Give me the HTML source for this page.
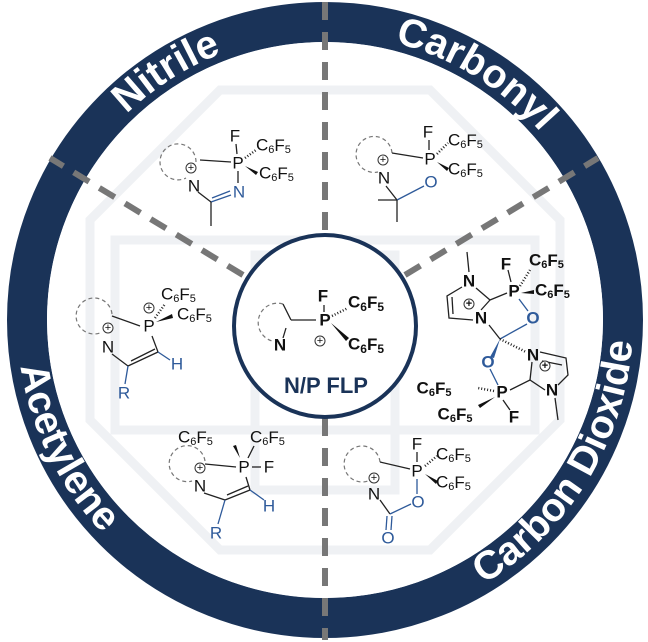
<!DOCTYPE html>
<html><head><meta charset="utf-8"><style>
html,body{margin:0;padding:0;background:#fff;}
svg{display:block;}
text{font-family:"Liberation Sans",sans-serif;}
.a{font-size:17px;fill:#111;text-anchor:middle;dominant-baseline:central;}
.b{fill:#2e5a9a;}
.c{font-size:17px;fill:#111;dominant-baseline:central;}
.k{font-weight:bold;font-size:17px;}
.l{stroke:#222;stroke-width:1.3;fill:none;}
.lb{stroke:#2e5a9a;stroke-width:1.3;fill:none;}
.d{stroke:#777;stroke-width:1.2;stroke-dasharray:4 3;fill:none;}
.p{font-size:11px;}
.pc{stroke:#333;stroke-width:1;fill:#fff;}
.h{stroke:#222;stroke-width:2.5;stroke-dasharray:1 2;}
</style></head><body>
<svg width="648" height="642" viewBox="0 0 648 642" xmlns="http://www.w3.org/2000/svg">
<defs>
<path id="top" d="M 39 320 A 286 286 0 0 1 611 320"/>
<path id="bot" d="M 17 320 A 308 308 0 0 0 633 320"/>
</defs>
<circle cx="325" cy="320" r="298" fill="none" stroke="#1a3358" stroke-width="40"/>
<circle cx="325" cy="320" r="278" fill="#fff"/>
<g fill="none" stroke="#eff1f4" stroke-width="9">
<polygon points="220,90 430,90 560,220 560,420 430,550 220,550 90,420 90,220"/>
<rect x="115" y="240" width="420" height="190"/>
<rect x="255" y="255" width="140" height="235"/>
</g>
<g stroke="#777" stroke-width="6" stroke-dasharray="18 12" fill="none">
<line x1="325" y1="2" x2="325" y2="232"/>
<line x1="325" y1="418" x2="325" y2="640"/>
<line x1="243" y1="275" x2="50" y2="158"/>
<line x1="405" y1="275" x2="598" y2="158"/>
</g>
<circle cx="325" cy="326" r="91" fill="#fff" stroke="#1a3358" stroke-width="4"/>
<g font-family="Liberation Sans" font-weight="bold" font-size="40" fill="#fff">
<text><textPath href="#top" startOffset="31.9%" text-anchor="middle">Nitrile</textPath></text>
<text><textPath href="#top" startOffset="67.5%" text-anchor="middle">Carbonyl</textPath></text>
<text><textPath href="#bot" startOffset="14.6%" text-anchor="middle">Acetylene</textPath></text>
<text><textPath href="#bot" startOffset="82.5%" text-anchor="middle">Carbon Dioxide</textPath></text>
</g>

<!-- central -->
<path class="d" d="M 283 304 A 17 17 0 1 0 272 341"/>
<line class="l" x1="283" y1="304" x2="291" y2="320"/>
<line class="l" x1="291" y1="320" x2="316" y2="320"/>
<line class="l" x1="286" y1="328" x2="283" y2="338"/>
<line class="l" x1="324" y1="305" x2="324" y2="312"/>
<line class="h" x1="332" y1="316" x2="348" y2="308"/>
<polygon points="331,323 349,338 346,341" fill="#111"/>
<text class="a k" x="323" y="296">F</text>
<text class="a k" x="325" y="320">P</text>
<text class="a k" x="280" y="345">N</text>
<circle class="pc" cx="320" cy="341" r="5"/><text class="a p" x="320" y="341">+</text>
<text class="c k" x="348" y="302">C<tspan font-size="12" dy="5">6</tspan><tspan dy="-5">F</tspan><tspan font-size="12" dy="5">5</tspan></text>
<text class="c k" x="348" y="344">C<tspan font-size="12" dy="5">6</tspan><tspan dy="-5">F</tspan><tspan font-size="12" dy="5">5</tspan></text>
<text x="326" y="393" font-size="22" font-weight="bold" fill="#1a3358" text-anchor="middle">N/P FLP</text>

<!-- Nitrile -->
<path class="d" d="M 196 162 A 18 18 0 1 0 186 178"/>
<line class="l" x1="200" y1="160" x2="231" y2="162"/>
<line class="l" x1="198" y1="192" x2="211" y2="202"/>
<line class="lb" x1="211" y1="202" x2="231" y2="195"/>
<line class="lb" x1="212" y1="198" x2="230" y2="191"/>
<line class="l" x1="211" y1="202" x2="211" y2="226"/>
<line class="l" x1="238" y1="171" x2="238" y2="183"/>
<line class="l" x1="236" y1="144" x2="237" y2="154"/>
<line class="h" x1="245" y1="158" x2="256" y2="150"/>
<polygon points="245,166 258,172 256,175" fill="#111"/>
<text class="a" x="235" y="136">F</text>
<text class="a" x="238" y="163">P</text>
<text class="a" x="194" y="186">N</text>
<text class="a b" x="239" y="192">N</text>
<circle class="pc" cx="191" cy="168" r="5"/><text class="a p" x="191" y="168">+</text>
<text class="c" x="256" y="145">C<tspan font-size="11" dy="5">6</tspan><tspan dy="-5">F</tspan><tspan font-size="11" dy="5">5</tspan></text>
<text class="c" x="259" y="173">C<tspan font-size="11" dy="5">6</tspan><tspan dy="-5">F</tspan><tspan font-size="11" dy="5">5</tspan></text>

<!-- Carbonyl -->
<path class="d" d="M 392 153 A 18 18 0 1 0 378 172"/>
<line class="l" x1="392" y1="153" x2="423" y2="158"/>
<line class="l" x1="386" y1="186" x2="397" y2="200"/>
<line class="lb" x1="397" y1="200" x2="424" y2="186"/>
<line class="l" x1="397" y1="200" x2="378" y2="200"/>
<line class="l" x1="397" y1="200" x2="397" y2="222"/>
<line class="l" x1="429" y1="140" x2="429" y2="150"/>
<line class="h" x1="437" y1="154" x2="448" y2="143"/>
<polygon points="437,162 449,168 447,171" fill="#111"/>
<text class="a" x="428" y="132">F</text>
<text class="a" x="430" y="159">P</text>
<text class="a" x="384" y="178">N</text>
<text class="a b" x="431" y="182">O</text>
<circle class="pc" cx="383" cy="160" r="5"/><text class="a p" x="383" y="160">+</text>
<text class="c" x="448" y="140">C<tspan font-size="11" dy="5">6</tspan><tspan dy="-5">F</tspan><tspan font-size="11" dy="5">5</tspan></text>
<text class="c" x="448" y="169">C<tspan font-size="11" dy="5">6</tspan><tspan dy="-5">F</tspan><tspan font-size="11" dy="5">5</tspan></text>

<!-- Acetylene upper -->
<path class="d" d="M 112 314 A 18 18 0 1 0 100 333"/>
<line class="l" x1="112" y1="316" x2="140" y2="326"/>
<line class="l" x1="112" y1="354" x2="128" y2="366"/>
<line class="l" x1="128" y1="366" x2="158" y2="352"/>
<line class="l" x1="131" y1="361" x2="155" y2="349"/>
<line class="l" x1="152" y1="336" x2="158" y2="352"/>
<line class="lb" x1="158" y1="352" x2="170" y2="360"/>
<line class="lb" x1="128" y1="366" x2="125" y2="384"/>
<line class="h" x1="155" y1="318" x2="165" y2="304"/>
<polygon points="156,322 172,314 173,318" fill="#111"/>
<text class="a" x="149" y="326">P</text>
<text class="a" x="108" y="347">N</text>
<text class="a b" x="177" y="364">H</text>
<text class="a b" x="124" y="393">R</text>
<circle class="pc" cx="108" cy="328" r="5"/><text class="a p" x="108" y="328">+</text>
<circle class="pc" cx="149" cy="308" r="5"/><text class="a p" x="149" y="308">+</text>
<text class="c" x="161" y="294">C<tspan font-size="11" dy="5">6</tspan><tspan dy="-5">F</tspan><tspan font-size="11" dy="5">5</tspan></text>
<text class="c" x="177" y="314">C<tspan font-size="11" dy="5">6</tspan><tspan dy="-5">F</tspan><tspan font-size="11" dy="5">5</tspan></text>

<!-- Acetylene lower -->
<path class="d" d="M 205 461 A 18 18 0 1 0 192 481"/>
<line class="l" x1="205" y1="464" x2="236" y2="467"/>
<line class="l" x1="252" y1="467" x2="261" y2="467"/>
<line class="l" x1="204" y1="493" x2="225" y2="500"/>
<line class="l" x1="225" y1="500" x2="250" y2="490"/>
<line class="l" x1="227" y1="495" x2="248" y2="486"/>
<line class="l" x1="246" y1="477" x2="250" y2="490"/>
<line class="lb" x1="250" y1="490" x2="264" y2="500"/>
<line class="lb" x1="225" y1="500" x2="218" y2="524"/>
<polygon points="240,458 233,446 236,445" fill="#111"/>
<line class="l" x1="248" y1="458" x2="254" y2="446"/>
<text class="a" x="244" y="467">P</text>
<text class="a" x="269" y="467">F</text>
<text class="a" x="200" y="486">N</text>
<text class="a b" x="269" y="506">H</text>
<text class="a b" x="216" y="533">R</text>
<circle class="pc" cx="200" cy="468" r="5"/><text class="a p" x="200" y="468">+</text>
<text class="c" x="178" y="437">C<tspan font-size="11" dy="5">6</tspan><tspan dy="-5">F</tspan><tspan font-size="11" dy="5">5</tspan></text>
<text class="c" x="250" y="437">C<tspan font-size="11" dy="5">6</tspan><tspan dy="-5">F</tspan><tspan font-size="11" dy="5">5</tspan></text>

<!-- CO2 dimer -->
<g font-weight="bold">
<line class="l" x1="467" y1="252" x2="469" y2="272"/>
<polyline class="l" points="462,287 447,296 449,318 473,320"/>
<line class="l" x1="452" y1="297" x2="453" y2="314"/>
<line class="l" x1="476" y1="288" x2="490" y2="300"/>
<line class="l" x1="481" y1="310" x2="490" y2="300"/>
<line class="l" x1="490" y1="300" x2="507" y2="293"/>
<line class="l" x1="489" y1="325" x2="500" y2="339"/>
<line class="l" x1="508" y1="270" x2="511" y2="282"/>
<line class="h" x1="520" y1="286" x2="530" y2="270"/>
<polygon points="521,293 534,290 534,294" fill="#111"/>
<line class="lb" x1="519" y1="299" x2="528" y2="311"/>
<line class="lb" x1="500" y1="339" x2="527" y2="324"/>
<polygon points="500,339 490,357 494,358" fill="#2e5a9a"/>
<line class="h" x1="500" y1="339" x2="526" y2="352"/>
<line class="lb" x1="490" y1="369" x2="498" y2="385"/>
<polyline class="l" points="540,352 566,358 568,375 558,385"/>
<line class="l" x1="542" y1="361" x2="562" y2="365"/>
<line class="l" x1="532" y1="362" x2="530" y2="380"/>
<line class="l" x1="530" y1="380" x2="510" y2="390"/>
<line class="l" x1="530" y1="380" x2="545" y2="390"/>
<line class="l" x1="555" y1="398" x2="558" y2="420"/>
<line class="l" x1="503" y1="400" x2="510" y2="410"/>
<line class="h" x1="494" y1="391" x2="478" y2="388"/>
<polygon points="495,397 480,408 478,405" fill="#111"/>
<text class="a" x="469" y="281">N</text>
<text class="a" x="481" y="318">N</text>
<text class="a" x="506" y="264">F</text>
<text class="a" x="514" y="291">P</text>
<text class="a b" x="533" y="318">O</text>
<text class="a b" x="488" y="362">O</text>
<text class="a" x="533" y="355">N</text>
<text class="a" x="552" y="390">N</text>
<text class="a" x="502" y="392">P</text>
<text class="a" x="514" y="417">F</text>
<circle class="pc" cx="469" cy="304" r="5"/><text class="a p" x="469" y="304">+</text>
<circle class="pc" cx="545" cy="366" r="5"/><text class="a p" x="545" y="366">+</text>
<text class="c" x="529" y="260">C<tspan font-size="11" dy="5">6</tspan><tspan dy="-5">F</tspan><tspan font-size="11" dy="5">5</tspan></text>
<text class="c" x="535" y="290">C<tspan font-size="11" dy="5">6</tspan><tspan dy="-5">F</tspan><tspan font-size="11" dy="5">5</tspan></text>
<text class="c" x="434" y="388" text-anchor="middle">C<tspan font-size="11" dy="5">6</tspan><tspan dy="-5">F</tspan><tspan font-size="11" dy="5">5</tspan></text>
<text class="c" x="455" y="414" text-anchor="middle">C<tspan font-size="11" dy="5">6</tspan><tspan dy="-5">F</tspan><tspan font-size="11" dy="5">5</tspan></text>
</g>

<!-- CO2 lower -->
<path class="d" d="M 380 462 A 18 18 0 1 0 368 481"/>
<line class="l" x1="380" y1="462" x2="410" y2="469"/>
<line class="l" x1="380" y1="500" x2="390" y2="514"/>
<line class="lb" x1="390" y1="514" x2="411" y2="504"/>
<line class="lb" x1="417" y1="479" x2="417" y2="494"/>
<line class="lb" x1="387" y1="516" x2="386" y2="530"/>
<line class="lb" x1="392" y1="516" x2="391" y2="530"/>
<line class="l" x1="417" y1="452" x2="417" y2="462"/>
<line class="h" x1="425" y1="466" x2="437" y2="456"/>
<polygon points="425,474 438,481 436,484" fill="#111"/>
<text class="a" x="417" y="444">F</text>
<text class="a" x="417" y="471">P</text>
<text class="a" x="374" y="494">N</text>
<text class="a b" x="418" y="502">O</text>
<text class="a b" x="388" y="538">O</text>
<circle class="pc" cx="374" cy="478" r="5"/><text class="a p" x="374" y="478">+</text>
<text class="c" x="436" y="454">C<tspan font-size="11" dy="5">6</tspan><tspan dy="-5">F</tspan><tspan font-size="11" dy="5">5</tspan></text>
<text class="c" x="436" y="482">C<tspan font-size="11" dy="5">6</tspan><tspan dy="-5">F</tspan><tspan font-size="11" dy="5">5</tspan></text>
</svg>
</body></html>
